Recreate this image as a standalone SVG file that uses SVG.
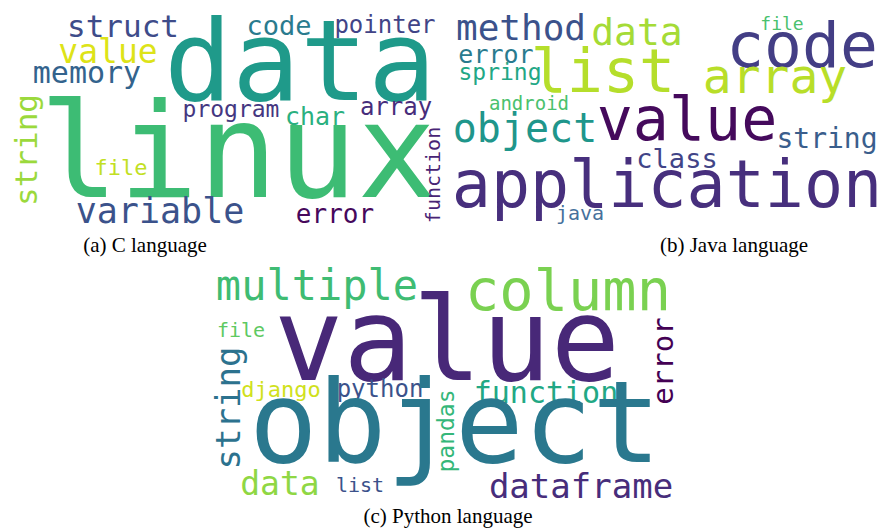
<svg xmlns="http://www.w3.org/2000/svg" width="882" height="531" viewBox="0 0 882 531">
<style>
.w{font-family:"DejaVu Sans Mono","Liberation Mono",monospace;text-anchor:middle}
.cap{font-family:"Liberation Serif","Times New Roman",serif;font-size:21px;fill:#000;text-anchor:middle}
</style>
<rect width="882" height="531" fill="#fff"/>
<g id="cloud-c">
<text class="w" x="300" y="100" font-size="113" fill="#1f9a8a">data</text>
<text class="w" x="238" y="197" font-size="132" fill="#3dbc74">linux</text>
<text class="w" x="123" y="37" font-size="31" fill="#3e4c8a">struct</text>
<text class="w" x="279" y="35" font-size="27" fill="#2a7b8e">code</text>
<text class="w" x="385" y="33" font-size="24" fill="#414487">pointer</text>
<text class="w" x="108" y="63" font-size="33" fill="#dde318">value</text>
<text class="w" x="87" y="83" font-size="30" fill="#33638d">memory</text>
<text class="w" transform="translate(37,150) rotate(-90)" font-size="31" fill="#9bd93c">string</text>
<text class="w" x="231" y="117" font-size="23" fill="#453781">program</text>
<text class="w" x="315" y="125" font-size="25" fill="#2ab07f">char</text>
<text class="w" x="396" y="115" font-size="24" fill="#472d7b">array</text>
<text class="w" x="121" y="175" font-size="22" fill="#c2df23">file</text>
<text class="w" x="160" y="223" font-size="35" fill="#3b528b">variable</text>
<text class="w" x="335" y="223" font-size="26" fill="#46085c">error</text>
<text class="w" transform="translate(440,175) rotate(-90)" font-size="20" fill="#482475">function</text>
</g>
<g id="cloud-java">
<text class="w" x="521" y="40" font-size="36" fill="#3b528b">method</text>
<text class="w" x="637" y="45" font-size="38" fill="#a5db36">data</text>
<text class="w" x="782" y="30" font-size="18" fill="#4ac16d">file</text>
<text class="w" x="802" y="67" font-size="63" fill="#433e85">code</text>
<text class="w" x="603" y="92" font-size="60" fill="#b5de2b">list</text>
<text class="w" x="496" y="63" font-size="25" fill="#297a8e">error</text>
<text class="w" x="500" y="80" font-size="23" fill="#22a785">spring</text>
<text class="w" x="775" y="93" font-size="48" fill="#b8de29">array</text>
<text class="w" x="529" y="110" font-size="19" fill="#4ac16d">android</text>
<text class="w" x="687" y="140" font-size="60" fill="#450a5c">value</text>
<text class="w" x="525" y="142" font-size="40" fill="#1f968b">object</text>
<text class="w" x="827" y="148" font-size="28" fill="#3a5e8c">string</text>
<text class="w" x="677" y="168" font-size="27" fill="#414487">class</text>
<text class="w" x="667" y="207" font-size="65" fill="#472f7d">application</text>
<text class="w" x="580" y="220" font-size="20" fill="#46719c">java</text>
</g>
<g id="cloud-python">
<text class="w" x="317" y="300" font-size="42" fill="#3fbc73">multiple</text>
<text class="w" x="568" y="310" font-size="57" fill="#7ad151">column</text>
<text class="w" x="447" y="380" font-size="115" fill="#482878">value</text>
<text class="w" x="241" y="337" font-size="20" fill="#5ec962">file</text>
<text class="w" transform="translate(240,408) rotate(-90)" font-size="34" fill="#2c728e">string</text>
<text class="w" x="281" y="397" font-size="22" fill="#d0e11c">django</text>
<text class="w" x="380" y="397" font-size="24" fill="#3b528b">python</text>
<text class="w" transform="translate(454,431) rotate(-90)" font-size="23" fill="#35b779">pandas</text>
<text class="w" x="546" y="403" font-size="30" fill="#22a884">function</text>
<text class="w" transform="translate(673,361) rotate(-90)" font-size="29" fill="#440154">error</text>
<text class="w" x="455" y="462" font-size="114" fill="#2a788e">object</text>
<text class="w" x="280" y="495" font-size="33" fill="#8fd744">data</text>
<text class="w" x="360" y="492" font-size="20" fill="#3b528b">list</text>
<text class="w" x="581" y="498" font-size="34" fill="#472d7b">dataframe</text>
</g>
<g id="captions">
<text class="cap" x="145" y="252">(a) C language</text>
<text class="cap" x="734" y="252">(b) Java language</text>
<text class="cap" x="448" y="523">(c) Python language</text>
</g>
</svg>
